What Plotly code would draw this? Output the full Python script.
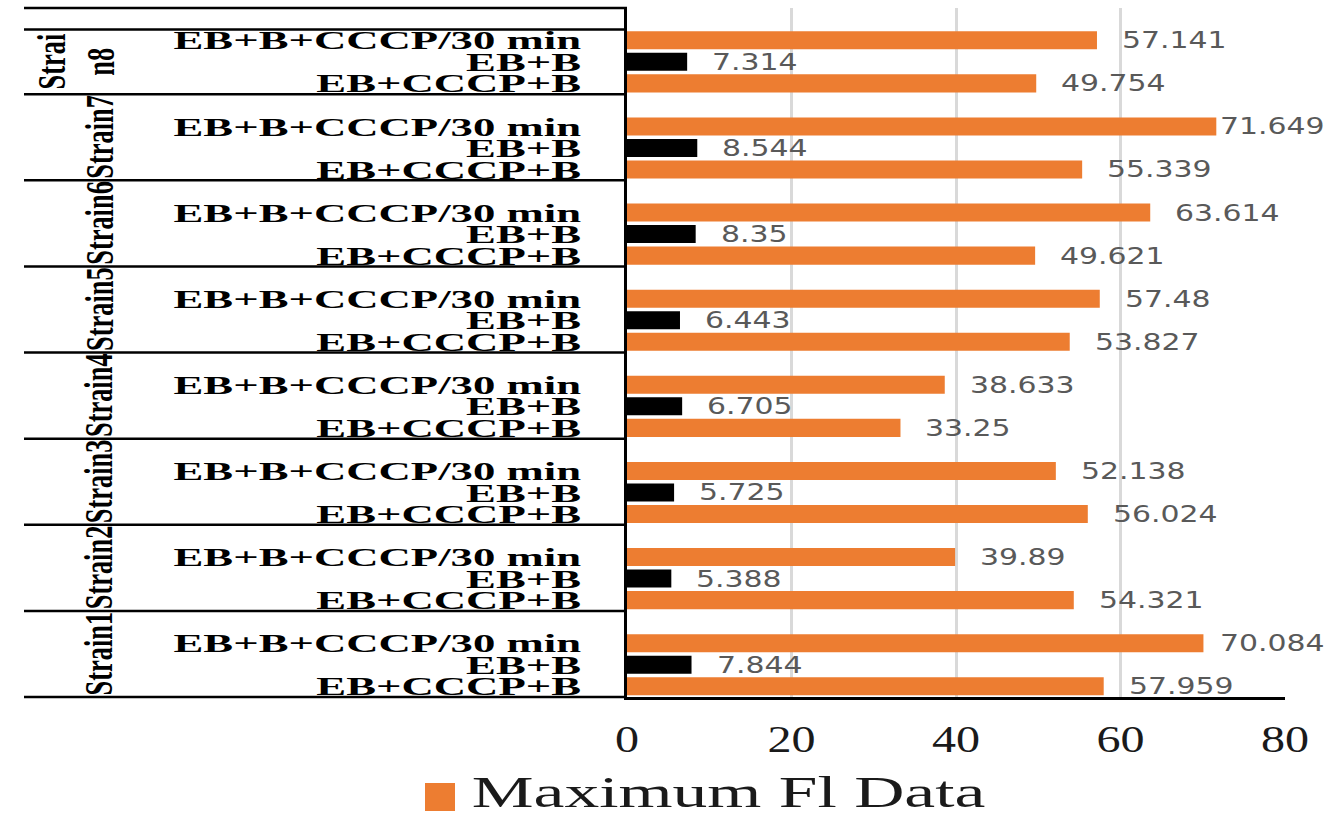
import json
import plotly.graph_objects as go

# ---- data -------------------------------------------------------------
strains = ["Strain1", "Strain2", "Strain3", "Strain4",
           "Strain5", "Strain6", "Strain7", "Strain8"]
conditions = ["EB+CCCP+B", "EB+B", "EB+B+CCCP/30 min"]

eb_cccp_b = [57.959, 54.321, 56.024, 33.25, 53.827, 49.621, 55.339, 49.754]
eb_b = [7.844, 5.388, 5.725, 6.705, 6.443, 8.35, 8.544, 7.314]
eb_b_cccp_30min = [70.084, 39.89, 52.138, 38.633, 57.48, 63.614, 71.649, 57.141]

x_ticks = [0, 20, 40, 60, 80]
legend_label = "Maximum Fl Data"

# ---- layout constants -------------------------------------------------
W, H = 1327, 819
M_L, M_R, M_T, M_B = 627, 42, 8, 122
PLOT_W = W - M_L - M_R
PLOT_H = H - M_T - M_B
X_MAX = 80
PX_PER_UNIT = PLOT_W / X_MAX
SLOTS = 4                       # three bars + one spacer row per strain
N_ROWS = SLOTS * len(strains)

ORANGE = "#ED7D31"
BLACK = "#000000"
SERIF = "Liberation Serif, Times New Roman, serif"

# horizontal scale factors applied to rendered text (wide, Excel-style look)
K_YTICK = 1.72
K_XTICK = 1.3
K_VALUE = 1.3
K_LEGEND = 1.58
K_STRAIN = 0.66


def px_x(px):
    """Figure pixel x -> paper coordinate of the plot area."""
    return (px - M_L) / PLOT_W


def px_y(py):
    """Figure pixel y -> paper coordinate of the plot area."""
    return (H - M_B - py) / PLOT_H


series = [eb_cccp_b, eb_b, eb_b_cccp_30min]
colors = [ORANGE, BLACK, ORANGE]

fig = go.Figure()
tickvals, ticktext = [], []
annotations = []
ann_scale = {}

for c, (vals, col) in enumerate(zip(series, colors)):
    ys = [SLOTS * g + c + 0.5 for g in range(len(strains))]
    fig.add_trace(go.Bar(
        x=vals, y=ys, orientation="h", width=0.84,
        marker=dict(color=col, line=dict(width=0)),
        name=conditions[c], showlegend=False, hoverinfo="x",
    ))
    for v, yv in zip(vals, ys):
        tickvals.append(yv)
        ticktext.append(conditions[c])
        # data labels sit a little right of the bar end, kept inside the chart
        shift = min(23, (71.85 - v) * PX_PER_UNIT)
        ann_scale[len(annotations)] = K_VALUE
        annotations.append(dict(
            x=v, y=yv, xref="x", yref="y", text=f"{v:g}",
            showarrow=False, xanchor="left", yanchor="middle", align="left",
            xshift=shift,
            font=dict(family="DejaVu Sans, Verdana, sans-serif", size=23,
                      color="#595959"),
        ))

# strain group labels, rotated; the last one wraps onto two lines
for g, name in enumerate(strains):
    if g == len(strains) - 1:
        pieces = [(name[:5], 52, SLOTS * g + 1.5),
                  (name[5:], 101, SLOTS * g + 1.5)]
    else:
        pieces = [(name, 99, SLOTS * g + SLOTS / 2)]
    for txt, xpx, yc in pieces:
        ann_scale[len(annotations)] = K_STRAIN
        annotations.append(dict(
            x=px_x(xpx), y=yc, xref="paper", yref="y", text=f"<b>{txt}</b>",
            showarrow=False, textangle=-90, xanchor="center", yanchor="middle",
            font=dict(family=SERIF, size=40, color=BLACK),
        ))

# legend: swatch + label
ann_scale[len(annotations)] = K_LEGEND
annotations.append(dict(
    x=px_x(728), y=px_y(819), xref="paper", yref="paper", text=legend_label,
    showarrow=False, xanchor="center", yanchor="bottom",
    font=dict(family=SERIF, size=44, color="#1a1a1a"),
))

shapes = []
LINE = dict(color=BLACK, width=2.5)
# separators between strain groups
for k in list(range(SLOTS, N_ROWS, SLOTS)) + [N_ROWS - 1]:
    shapes.append(dict(type="line", xref="paper", yref="y",
                       x0=px_x(24), x1=0, y0=k, y1=k, line=LINE))
for yp in (0, 1):
    shapes.append(dict(type="line", xref="paper", yref="paper",
                       x0=px_x(24), x1=0, y0=yp, y1=yp, line=LINE))
shapes.append(dict(type="rect", xref="paper", yref="paper",
                   x0=px_x(425), x1=px_x(455), y0=px_y(811), y1=px_y(783),
                   fillcolor=ORANGE, line=dict(width=0)))

fig.update_layout(
    width=W, height=H,
    margin=dict(l=M_L, r=M_R, t=M_T, b=M_B, pad=0),
    paper_bgcolor="white", plot_bgcolor="white",
    barmode="overlay",
    showlegend=False,
    annotations=annotations,
    shapes=shapes,
    xaxis=dict(
        range=[0, X_MAX], tickvals=x_ticks, ticktext=[str(t) for t in x_ticks],
        showgrid=True, gridcolor="#d9d9d9", gridwidth=2.5,
        zeroline=False, showline=True, linecolor=BLACK, linewidth=2.5,
        ticks="", ticklabelstandoff=8,
        tickfont=dict(family=SERIF, size=37, color="#1a1a1a"),
        fixedrange=True,
    ),
    yaxis=dict(
        range=[0, N_ROWS], tickvals=tickvals, ticktext=ticktext,
        showgrid=False, zeroline=False,
        showline=True, linecolor=BLACK, linewidth=2.5,
        ticks="", ticklabelstandoff=38,
        tickfont=dict(family=SERIF, size=26, color=BLACK, weight="bold"),
        fixedrange=True,
    ),
)

# widen / condense rendered text along its baseline
post_js = """
var gd = document.getElementById('{plot_id}');
function scaleText(t, k) {
  var w = t.getComputedTextLength();
  if (!w) { return; }
  t.setAttribute('textLength', (w * k).toFixed(2));
  t.setAttribute('lengthAdjust', 'spacingAndGlyphs');
}
gd.querySelectorAll('g.ytick text').forEach(function (t) { scaleText(t, %s); });
gd.querySelectorAll('g.xtick text').forEach(function (t) { scaleText(t, %s); });
var annScale = %s;
gd.querySelectorAll('g.annotation').forEach(function (g) {
  var k = annScale[g.getAttribute('data-index')];
  var t = g.querySelector('text.annotation-text');
  if (k && t) { scaleText(t, k); }
});
""" % (K_YTICK, K_XTICK, json.dumps({str(i): k for i, k in ann_scale.items()}))

fig.write_html("out.html", post_script=post_js)
